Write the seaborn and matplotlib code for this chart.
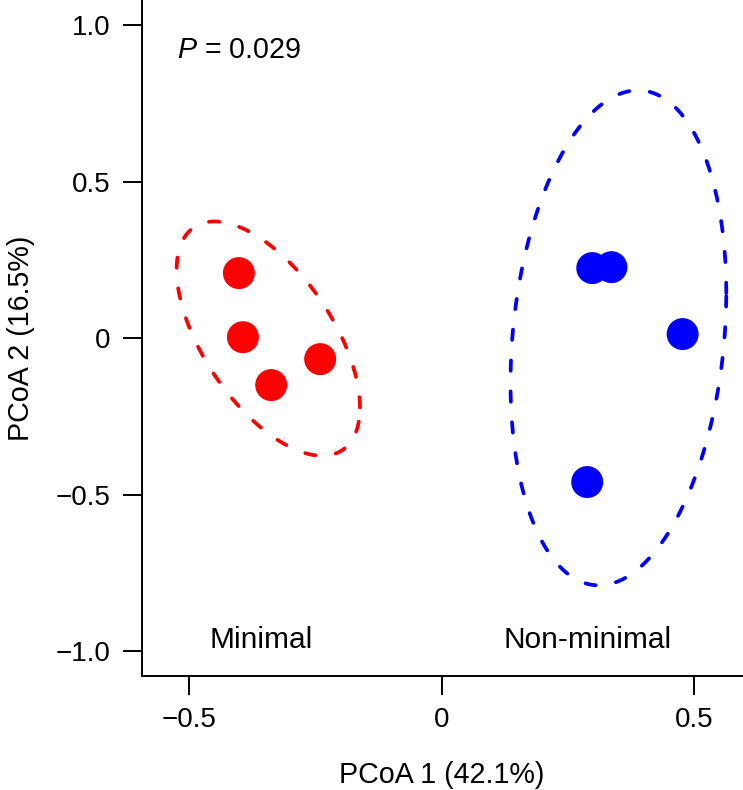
import numpy as np
import pandas as pd
import matplotlib
matplotlib.use("Agg")
import matplotlib.pyplot as plt
import seaborn as sns

# PCoA scores
pc1 = [-0.402, -0.394, -0.338, -0.241, 0.298, 0.336, 0.477, 0.288]
pc2 = [0.208, 0.003, -0.150, -0.067, 0.224, 0.227, 0.013, -0.460]
group = ["Minimal"] * 4 + ["Non-minimal"] * 4
group_colors = {"Minimal": "#ff0000", "Non-minimal": "#0000ff"}
group_label_x = {"Minimal": -0.358, "Non-minimal": 0.289}
p_text = "0.029"

xticks = [-0.5, 0, 0.5]
xticklabels = ["\u22120.5", "0", "0.5"]
yticks = [-1.0, -0.5, 0, 0.5, 1.0]
yticklabels = ["\u22121.0", "\u22120.5", "0", "0.5", "1.0"]

df = pd.DataFrame({"PC1": pc1, "PC2": pc2, "group": group})

sns.set_style("ticks")
plt.rcParams["font.family"] = ["Liberation Sans", "DejaVu Sans"]
plt.rcParams["mathtext.fontset"] = "custom"
plt.rcParams["mathtext.it"] = "Liberation Sans:italic"
plt.rcParams["mathtext.rm"] = "Liberation Sans"
plt.rcParams["text.color"] = "black"
plt.rcParams["axes.labelcolor"] = "black"
plt.rcParams["xtick.color"] = "black"
plt.rcParams["ytick.color"] = "black"

fig = plt.figure(figsize=(7.43, 7.90), dpi=100)
ax = fig.add_axes([141.7 / 743, 114 / 790, 600 / 743, 676 / 790])

sns.scatterplot(
    data=df, x="PC1", y="PC2", hue="group", palette=group_colors,
    s=530, linewidth=0, alpha=1, legend=False, ax=ax, zorder=3,
)

# 95% ellipses (sd of group scores, chi-square with 2 df)
t = np.linspace(0, 2 * np.pi, 400)
r = np.sqrt(5.991)
for name, sub in df.groupby("group"):
    pts = sub[["PC1", "PC2"]].to_numpy()
    center = pts.mean(axis=0)
    cov = np.cov(pts, rowvar=False)
    L = np.linalg.cholesky(cov)
    circ = np.vstack([np.cos(t), np.sin(t)]) * r
    ell = center[:, None] + L @ circ
    ax.plot(ell[0], ell[1], color=group_colors[name], lw=2.7,
            dashes=(2.75, 5.5), dash_capstyle="round", zorder=2)
    ax.text(group_label_x[name], -0.966, name, ha="center", va="center",
            fontsize=21.5)

ax.text(-0.525, 0.921, r"$\it{P}$ = " + p_text, ha="left", va="center",
        fontsize=20.6)

ax.set_xlim(-0.5945, 0.594)
ax.set_ylim(-1.08, 1.081)
ax.set_xticks(xticks)
ax.set_xticklabels(xticklabels)
ax.set_yticks(yticks)
ax.set_yticklabels(yticklabels)
ax.tick_params(axis="both", direction="out", length=13.5, width=1.4,
               pad=9, labelsize=20, color="black", labelcolor="black")
for side in ["top", "right"]:
    ax.spines[side].set_visible(False)
for side in ["left", "bottom"]:
    ax.spines[side].set_linewidth(1.4)
    ax.spines[side].set_color("black")

ax.set_xlabel("PCoA 1 (42.1%)", fontsize=20.6, labelpad=20)
ax.set_ylabel("PCoA 2 (16.5%)", fontsize=20.6, labelpad=15)

fig.savefig("out.png", dpi=100)
plt.close(fig)
